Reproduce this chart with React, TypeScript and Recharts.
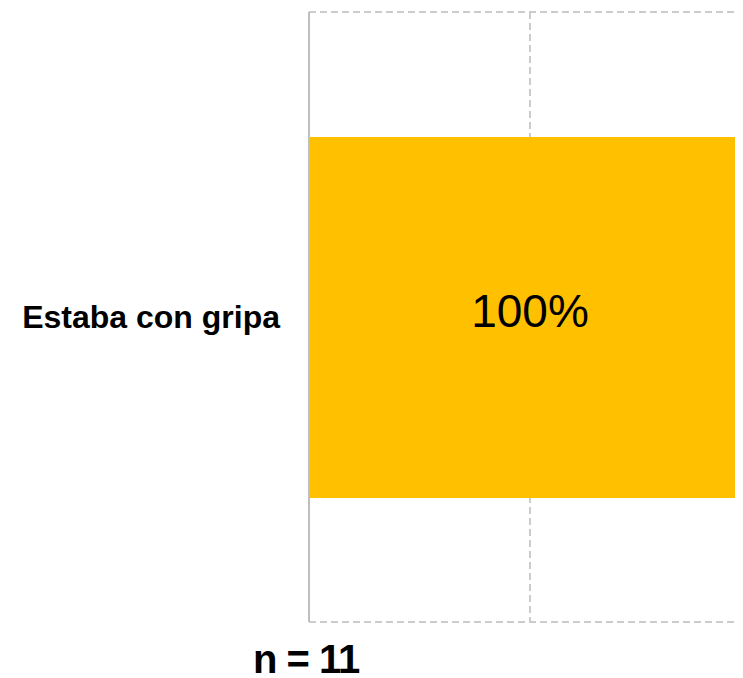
import {
  BarChart,
  Bar,
  XAxis,
  YAxis,
  CartesianGrid,
  LabelList,
} from "recharts";

const categories = ["Estaba con gripa"];
const values = [1];
const xTicks = [0, 0.5, 1];
const sampleLabel = "n = 11";

const data = categories.map((name, i) => ({ name, value: values[i] }));

const FONT = "'Liberation Sans', Arial, sans-serif";

function SampleLabel(props: any) {
  const vb = props.viewBox || {};
  return (
    <text
      x={vb.x - 56}
      y={vb.y + 51}
      fontSize={40}
      fontWeight="bold"
      fontFamily={FONT}
      letterSpacing={-1}
      fill="#000"
    >
      {sampleLabel}
    </text>
  );
}

export default function App() {
  return (
    <div
      style={{
        width: 735,
        height: 670,
        overflow: "hidden",
        fontFamily: FONT,
      }}
    >
      <BarChart
        width={743}
        height={670}
        data={data}
        layout="vertical"
        margin={{ top: 4, right: 0, bottom: 0, left: 0 }}
      >
        <CartesianGrid
          yAxisId="a_num"
          stroke="#cccccc"
          strokeWidth={2}
          strokeDasharray="7 4"
        />
        <XAxis
          type="number"
          domain={[0, 1]}
          ticks={xTicks}
          interval={0}
          tick={() => <g />}
          axisLine={false}
          tickLine={false}
          height={56}
          label={<SampleLabel />}
        />
        <YAxis
          yAxisId="a_num"
          type="number"
          domain={[0, 1]}
          ticks={[0, 1]}
          tick={false}
          tickSize={10}
          width={10}
          axisLine={{ stroke: "#bfbfbf", strokeWidth: 2 }}
          tickLine={{ stroke: "#bfbfbf", strokeWidth: 2 }}
        />
        <YAxis
          yAxisId="b_cat"
          type="category"
          dataKey="name"
          width={291}
          axisLine={false}
          tickLine={false}
          tickSize={0}
          tickMargin={19}
          tick={{
            fill: "#000",
            fontSize: 32,
            fontWeight: "bold",
            fontFamily: FONT,
          }}
        />
        <Bar
          yAxisId="b_cat"
          dataKey="value"
          fill="#FFC000"
          barSize={361}
          isAnimationActive={false}
        >
          <LabelList
            dataKey="value"
            position="center"
            formatter={(v: any) => `${Math.round(Number(v) * 100)}%`}
            fill="#000"
            fontSize={46}
            fontFamily={FONT}
            dy={-7}
          />
        </Bar>
      </BarChart>
    </div>
  );
}
